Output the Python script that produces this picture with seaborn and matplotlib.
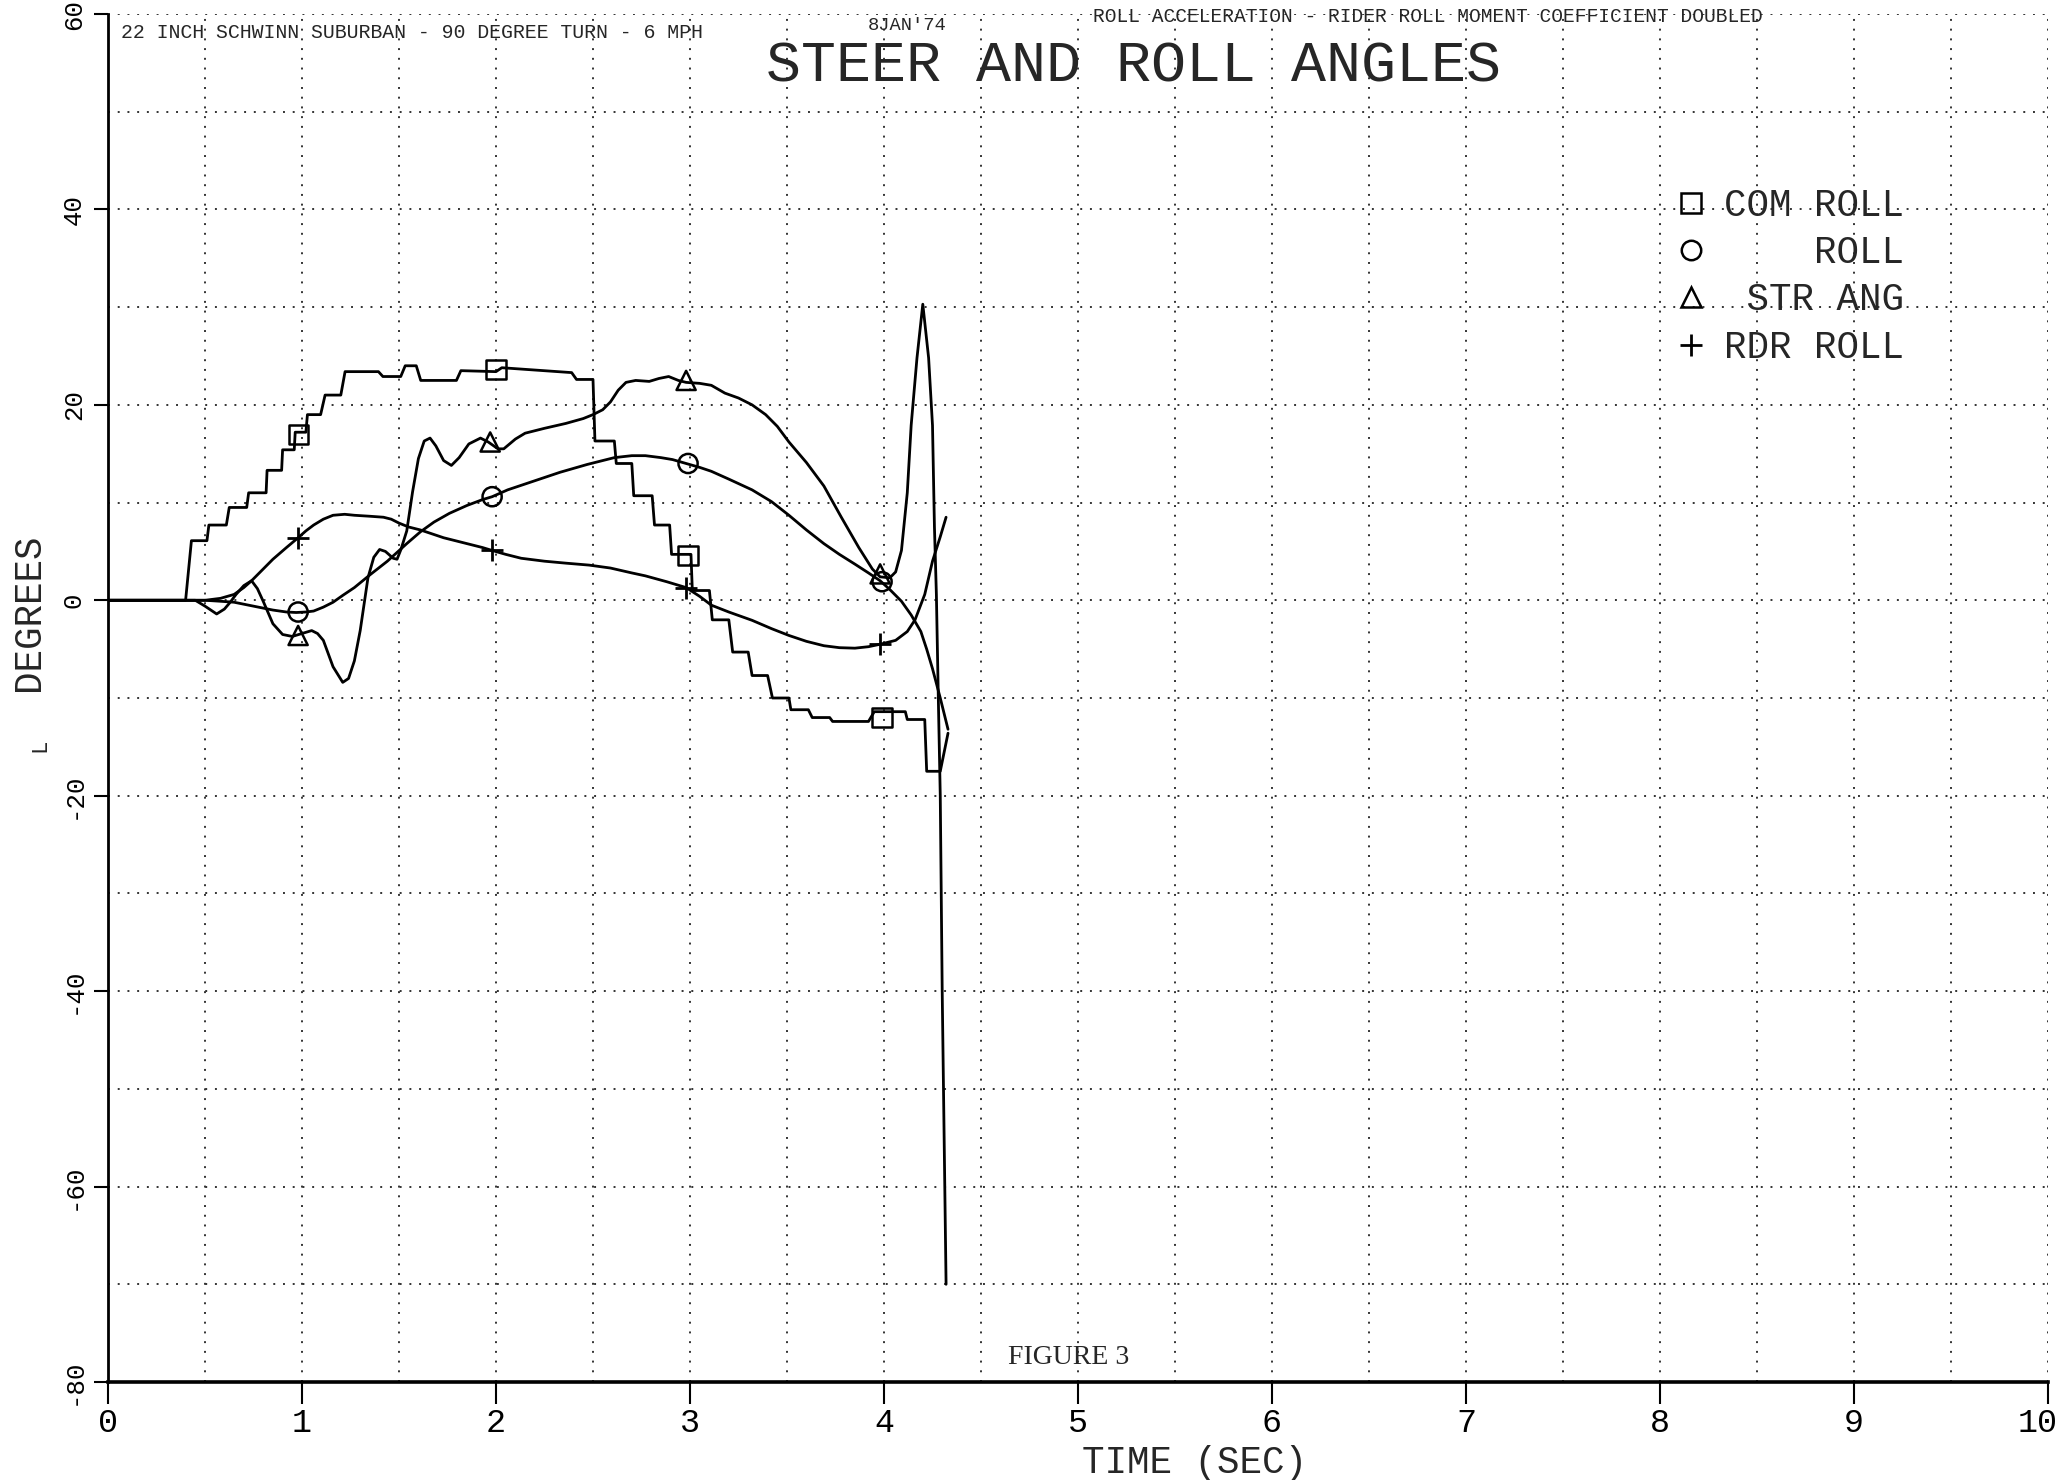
import numpy as np
import pandas as pd
import matplotlib
matplotlib.use("Agg")
import matplotlib.pyplot as plt
import matplotlib.transforms as mtransforms
import seaborn as sns
from matplotlib.lines import Line2D

# ---------------- data (time in s, angle in degrees) ----------------
com_roll = [(0, 0), (0.40, 0), (0.43, 6.1), (0.51, 6.1), (0.52, 7.7), (0.61, 7.7),
            (0.625, 9.5), (0.715, 9.5), (0.725, 11.0), (0.815, 11.0), (0.82, 13.3),
            (0.895, 13.3), (0.90, 15.4), (0.96, 15.4), (0.965, 17.2), (1.02, 17.2),
            (1.028, 19.0), (1.096, 19.0), (1.119, 21.0), (1.20, 21.0), (1.222, 23.4),
            (1.394, 23.4), (1.417, 22.9), (1.509, 22.9), (1.532, 24.0), (1.589, 24.0),
            (1.612, 22.5), (1.796, 22.5), (1.819, 23.5), (2.00, 23.4), (2.03, 23.8),
            (2.39, 23.3), (2.415, 22.6), (2.50, 22.6), (2.51, 16.3), (2.61, 16.3),
            (2.62, 14.0), (2.70, 14.0), (2.71, 10.7), (2.805, 10.7), (2.817, 7.7),
            (2.895, 7.7), (2.905, 4.7), (3.005, 4.7), (3.012, 1.0), (3.10, 1.0),
            (3.115, -2.0), (3.20, -2.0), (3.22, -5.3), (3.30, -5.3), (3.32, -7.7),
            (3.40, -7.7), (3.425, -10.0), (3.51, -10.0), (3.52, -11.2), (3.61, -11.2),
            (3.63, -12.0), (3.72, -12.0), (3.735, -12.4), (3.92, -12.4), (3.95, -11.4),
            (4.11, -11.4), (4.12, -12.2), (4.21, -12.2), (4.22, -17.5), (4.29, -17.5),
            (4.33, -13.6)]

roll = [(0, 0), (0.50, 0), (0.58, -0.1), (0.65, -0.2), (0.75, -0.6), (0.85, -1.0),
        (0.92, -1.2), (0.97, -1.25), (1.02, -1.2), (1.06, -1.1), (1.11, -0.7),
        (1.16, -0.2), (1.21, 0.5), (1.27, 1.3), (1.35, 2.6), (1.44, 4.0), (1.54, 5.8),
        (1.61, 7.0), (1.68, 8.0), (1.76, 8.9), (1.85, 9.7), (1.93, 10.3), (1.98, 10.6),
        (2.06, 11.3), (2.15, 11.9), (2.24, 12.5), (2.33, 13.1), (2.47, 13.9),
        (2.61, 14.6), (2.70, 14.8), (2.77, 14.8), (2.85, 14.6), (2.91, 14.4),
        (2.98, 14.0), (3.05, 13.6), (3.11, 13.2), (3.20, 12.4), (3.32, 11.3),
        (3.42, 10.1), (3.51, 8.7), (3.60, 7.2), (3.69, 5.8), (3.77, 4.7), (3.85, 3.7),
        (3.92, 2.8), (3.98, 2.0), (4.03, 1.1), (4.09, -0.1), (4.14, -1.5),
        (4.19, -3.2), (4.22, -5.0), (4.25, -7.0), (4.29, -10.0), (4.33, -13.2)]

str_ang = [(0, 0), (0.45, 0), (0.50, -0.6), (0.56, -1.4), (0.60, -0.9), (0.63, -0.2),
           (0.66, 0.6), (0.70, 1.5), (0.74, 2.0), (0.77, 1.2), (0.80, -0.1),
           (0.85, -2.4), (0.90, -3.5), (0.95, -3.7), (1.00, -3.4), (1.05, -3.1),
           (1.08, -3.4), (1.11, -4.1), (1.16, -6.8), (1.21, -8.4), (1.24, -8.0),
           (1.27, -6.2), (1.30, -3.1), (1.34, 2.3), (1.37, 4.4), (1.40, 5.2),
           (1.43, 5.0), (1.47, 4.3), (1.49, 4.2), (1.51, 5.2), (1.54, 7.1),
           (1.57, 11.1), (1.60, 14.5), (1.63, 16.3), (1.66, 16.6), (1.69, 15.8),
           (1.73, 14.3), (1.77, 13.8), (1.81, 14.6), (1.86, 16.0), (1.92, 16.6),
           (1.96, 16.2), (2.01, 15.5), (2.04, 15.5), (2.10, 16.5), (2.15, 17.1),
           (2.25, 17.6), (2.36, 18.1), (2.45, 18.6), (2.50, 19.0), (2.55, 19.5),
           (2.59, 20.3), (2.63, 21.5), (2.67, 22.3), (2.72, 22.5), (2.79, 22.4),
           (2.84, 22.7), (2.89, 22.9), (2.94, 22.5), (2.98, 22.3), (3.05, 22.2),
           (3.11, 22.0), (3.18, 21.2), (3.25, 20.7), (3.32, 20.0), (3.39, 19.0),
           (3.45, 17.8), (3.51, 16.2), (3.60, 14.1), (3.69, 11.7), (3.78, 8.5),
           (3.87, 5.4), (3.94, 3.2), (3.98, 2.4), (4.03, 2.3), (4.06, 2.9),
           (4.09, 5.1), (4.12, 11.0), (4.14, 17.9), (4.17, 24.8), (4.20, 30.3),
           (4.23, 24.8), (4.25, 17.9), (4.26, 7.5), (4.27, 0.6), (4.28, -10.0),
           (4.29, -20.0), (4.30, -40.0), (4.31, -55.0), (4.32, -70.0)]

rdr_roll = [(0, 0), (0.50, 0), (0.58, 0.2), (0.65, 0.6), (0.70, 1.3), (0.74, 2.0),
            (0.80, 3.2), (0.85, 4.2), (0.92, 5.4), (0.98, 6.4), (1.02, 7.1),
            (1.06, 7.7), (1.11, 8.3), (1.16, 8.7), (1.22, 8.8), (1.27, 8.7),
            (1.35, 8.6), (1.42, 8.5), (1.46, 8.3), (1.50, 7.9), (1.55, 7.5),
            (1.61, 7.2), (1.67, 6.8), (1.73, 6.4), (1.83, 5.9), (1.93, 5.4),
            (1.98, 5.1), (2.05, 4.7), (2.13, 4.3), (2.25, 4.0), (2.36, 3.8),
            (2.48, 3.6), (2.59, 3.3), (2.70, 2.8), (2.77, 2.5), (2.88, 1.9),
            (2.98, 1.3), (3.05, 0.4), (3.11, -0.5), (3.20, -1.2), (3.32, -2.05),
            (3.42, -2.9), (3.51, -3.6), (3.60, -4.2), (3.69, -4.65), (3.77, -4.85),
            (3.85, -4.9), (3.92, -4.75), (3.98, -4.5), (4.06, -4.1), (4.12, -3.2),
            (4.16, -2.0), (4.21, 0.6), (4.25, 4.0), (4.29, 6.5), (4.32, 8.5)]

com_marks = [(0.98, 17.0), (2.00, 23.6), (2.99, 4.6), (3.99, -12.0)]
roll_marks = [(0.98, -1.2), (1.98, 10.6), (2.99, 14.0), (3.99, 1.9)]
str_marks = [(0.98, -3.6), (1.97, 16.2), (2.98, 22.5), (3.98, 2.7)]
rdr_marks = [(0.98, 6.4), (1.98, 5.1), (2.98, 1.3), (3.98, -4.5)]

legend_labels = ["COM ROLL", "    ROLL", " STR ANG", "RDR ROLL"]
x_ticks = list(range(0, 11))
y_ticks = list(range(-80, 61, 20))

# ---------------- style ----------------
sns.set_theme(style="white")
plt.rcParams['font.family'] = ['Liberation Mono', 'DejaVu Sans Mono']
plt.rcParams['axes.unicode_minus'] = False

W, H = 2065, 1480
fig = plt.figure(figsize=(W / 100, H / 100), dpi=100)
left, right, top, bottom = 108, 2048, 14, 1382
ax = fig.add_axes([left / W, 1 - bottom / H, (right - left) / W, (bottom - top) / H])


def frame(pairs):
    return pd.DataFrame(pairs, columns=["t", "deg"])


for pairs in (com_roll, roll, str_ang, rdr_roll):
    sns.lineplot(data=frame(pairs), x="t", y="deg", ax=ax, color="black",
                 linewidth=2.0, sort=False, estimator=None, legend=False)

hollow = dict(facecolor="none", edgecolor="black", linewidth=1.8, s=190, zorder=5)
sns.scatterplot(data=frame(com_marks), x="t", y="deg", ax=ax, marker="s", legend=False, **hollow)
sns.scatterplot(data=frame(roll_marks), x="t", y="deg", ax=ax, marker="o", legend=False, **hollow)
sns.scatterplot(data=frame(str_marks), x="t", y="deg", ax=ax, marker="^", legend=False, **hollow)
sns.scatterplot(data=frame(rdr_marks), x="t", y="deg", ax=ax, marker="+", color="black",
                linewidth=2.0, s=260, legend=False, zorder=5)

ax.set_xlim(0, 10)
ax.set_ylim(-80, 60)
ax.set_xticks(x_ticks)
ax.set_xticks(np.arange(0, 10.01, 0.5), minor=True)
ax.set_yticks(y_ticks)
ax.set_yticks(np.arange(-80, 61, 10), minor=True)
ax.set_xticklabels([str(v) for v in x_ticks])
ax.set_yticklabels([str(v) for v in y_ticks])
ax.set_xlabel("")
ax.set_ylabel("")

ax.grid(True, which="both", color="#333333", linestyle=(0, (1, 4)), linewidth=1.4)
ax.set_axisbelow(True)
for s in ("top", "right"):
    ax.spines[s].set_visible(False)
ax.spines["left"].set_linewidth(2.0)
ax.spines["bottom"].set_linewidth(2.6)
ax.spines["left"].set_color("black")
ax.spines["bottom"].set_color("black")

ax.tick_params(axis="x", which="major", direction="out", length=16, width=1.5,
               pad=3, labelsize=24, colors="black", bottom=True)
ax.tick_params(axis="y", which="major", direction="out", length=10, width=1.5,
               pad=6, labelsize=18.5, colors="black", left=True)
ax.tick_params(which="minor", length=0)
for lbl in ax.get_yticklabels():
    lbl.set_rotation(90)
    lbl.set_va("center")
# keep the last x label ("10") inside the picture
last = ax.get_xticklabels()[-1]
last.set_transform(last.get_transform()
                   + mtransforms.ScaledTranslation(-10 / 100, 0, fig.dpi_scale_trans))

# legend
handles = [
    Line2D([], [], ls="none", marker="s", mfc="none", mec="black", ms=14, mew=1.8),
    Line2D([], [], ls="none", marker="o", mfc="none", mec="black", ms=14, mew=1.8),
    Line2D([], [], ls="none", marker="^", mfc="none", mec="black", ms=14, mew=1.8),
    Line2D([], [], ls="none", marker="+", color="black", ms=16, mew=2.0),
]
fig.legend(handles, legend_labels, loc="upper left",
           bbox_to_anchor=(1672 / W, 1 - 188 / H), frameon=False,
           fontsize=27, handlelength=1.0, handletextpad=0.4,
           labelspacing=0.3, borderpad=0, borderaxespad=0)

# texts
fig.text(121 / W, 1 - 33 / H, "22 INCH SCHWINN SUBURBAN - 90 DEGREE TURN - 6 MPH",
         fontsize=14.3, ha="left", va="center")
fig.text(907 / W, 1 - 26 / H, "8JAN'74", fontsize=13.5, ha="center", va="center")
fig.text(1093 / W, 1 - 17 / H, "ROLL ACCELERATION - RIDER ROLL MOMENT COEFFICIENT DOUBLED",
         fontsize=14.1, ha="left", va="center")
fig.text(1134 / W, 1 - 67 / H, "STEER AND ROLL ANGLES", fontsize=42,
         ha="center", va="center")
fig.text(29 / W, 1 - 612 / H, "DEGREES", fontsize=27, rotation=90,
         ha="center", va="center")
fig.text(40 / W, 1 - 745 / H, "L", fontsize=16, rotation=90,
         ha="center", va="center")
fig.text(1195 / W, 1 - 1463 / H, "TIME (SEC)", fontsize=27,
         ha="center", va="center")
fig.text(1069 / W, 1 - 1357 / H, "FIGURE 3", fontsize=20,
         family=["Liberation Serif", "DejaVu Serif"], ha="center", va="center")

fig.savefig("out.png", dpi=100, facecolor="white")
